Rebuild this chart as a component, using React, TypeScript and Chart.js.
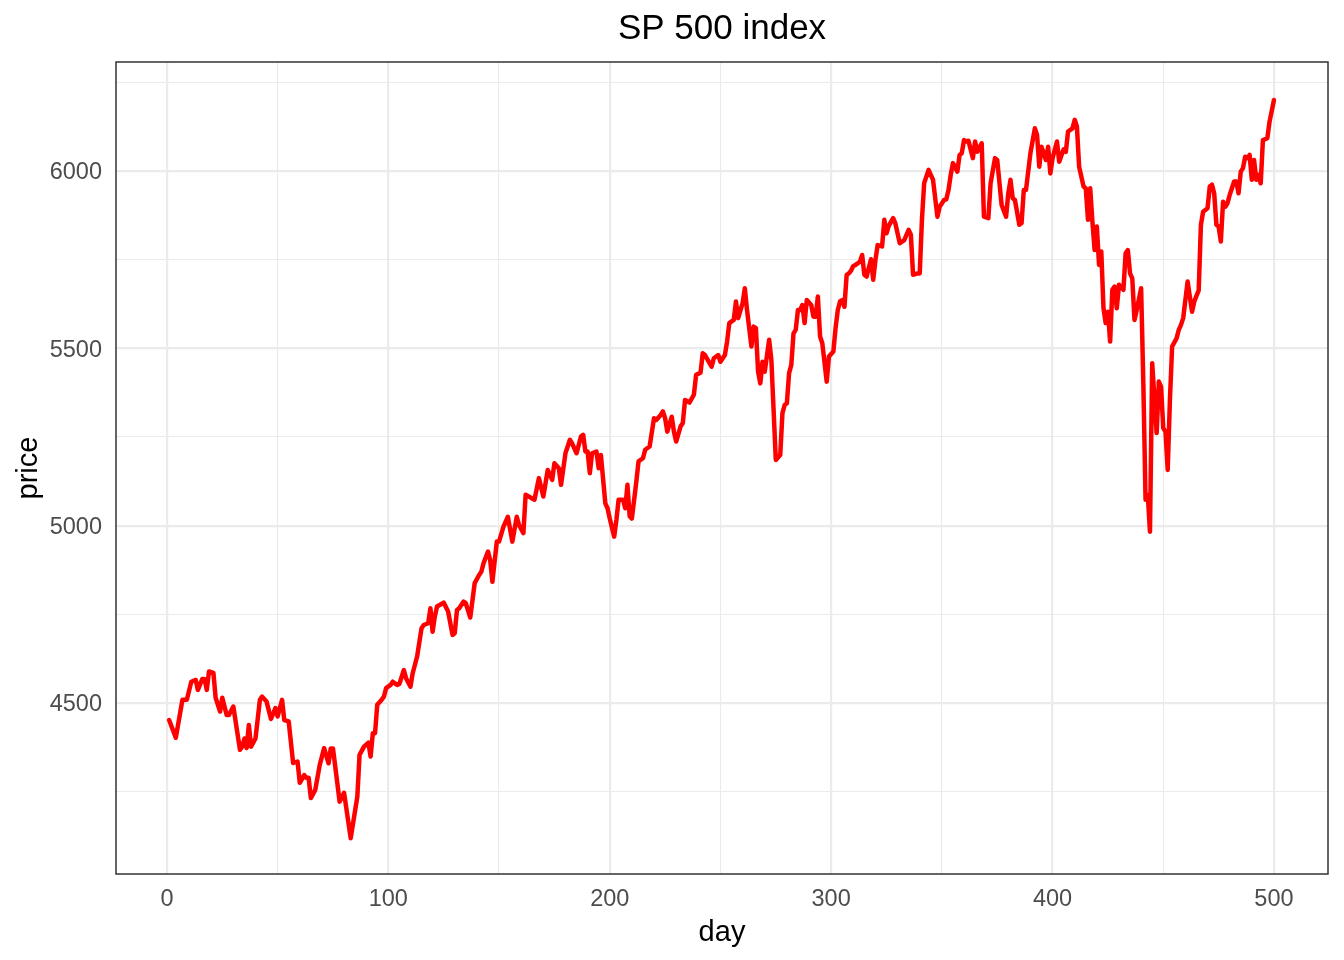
import React, { useEffect, useRef } from "react";
import { Chart, registerables } from "chart.js";

Chart.register(...registerables);

const days = [
  1, 4, 7, 9, 11, 13, 14, 16, 17, 18, 19, 21, 22, 24, 25, 27, 28, 30, 33, 34,
  35, 36, 37, 38, 40, 42, 43, 45, 47, 49, 50, 52, 53, 55, 57, 59, 60, 62, 63, 64,
  65, 67, 69, 71, 73, 74, 75, 78, 80, 83, 86, 87, 89, 91, 92, 93, 94, 95, 97, 98,
  99, 101, 102, 104, 105, 107, 108, 110, 111, 113, 115, 116, 118, 119, 120, 121, 122, 125, 127, 129,
  130, 131, 132, 134, 135, 137, 139, 141, 142, 143, 145, 146, 147, 149, 150, 152, 154, 156, 158, 159,
  161, 162, 164, 166, 168, 170, 172, 174, 175, 177, 178, 180, 182, 183, 185, 187, 188, 189, 190, 191,
  192, 194, 195, 196, 198, 199, 200, 202, 203, 204, 206, 207, 208, 209, 210, 212, 213, 215, 216, 218,
  220, 221, 223, 224, 225, 226, 228, 229, 230, 232, 233, 234, 236, 238, 239, 241, 242, 243, 246, 247,
  249, 250, 252, 253, 254, 256, 257, 258, 260, 261, 262, 264, 265, 266, 267, 268, 269, 270, 272, 273,
  275, 277, 278, 279, 280, 281, 282, 283, 284, 285, 286, 287, 288, 289, 291, 292, 293, 294, 295, 296,
  298, 299, 301, 302, 303, 304, 305, 306, 307, 308, 309, 310, 311, 313, 314, 315, 316, 318, 319, 320,
  321, 323, 324, 325, 326, 328, 329, 331, 333, 335, 336, 337, 339, 340, 341, 342, 344, 345, 346, 348,
  349, 351, 352, 353, 354, 355, 357, 358, 359, 360, 361, 362, 364, 365, 366, 368, 369, 371, 372, 374,
  375, 377, 379, 380, 381, 382, 383, 385, 386, 387, 388, 390, 392, 393, 394, 395, 397, 398, 399, 400,
  402, 403, 405, 406, 407, 409, 410, 411, 412, 414, 415, 416, 417, 418, 419, 420, 421, 422, 423, 424,
  425, 426, 427, 428, 429, 430, 432, 433, 434, 435, 436, 437, 438, 440, 441, 442, 443, 444, 445, 447,
  448, 449, 450, 451, 452, 453, 454, 456, 457, 458, 459, 461, 463, 464, 466, 467, 468, 470, 471, 472,
  473, 474, 475, 476, 477, 478, 479, 480, 482, 483, 484, 485, 486, 487, 488, 489, 490, 491, 492, 493,
  494, 495, 497, 498, 500,
];

const prices = [
  4452, 4402, 4509, 4509, 4560, 4565, 4537, 4568, 4568, 4537, 4589, 4585, 4515, 4476, 4515, 4466, 4466, 4490, 4368, 4377,
  4400, 4373, 4438, 4377, 4400, 4509, 4518, 4504, 4455, 4486, 4462, 4509, 4452, 4448, 4331, 4335, 4275, 4297, 4289, 4289,
  4232, 4255, 4325, 4373, 4330, 4372, 4372, 4222, 4247, 4119, 4236, 4354, 4377, 4388, 4349, 4415, 4415, 4495, 4509, 4518,
  4542, 4551, 4560, 4551, 4554, 4593, 4570, 4546, 4584, 4631, 4711, 4720, 4725, 4767, 4701, 4744, 4772, 4783, 4758, 4692,
  4697, 4762, 4767, 4786, 4781, 4741, 4838, 4861, 4870, 4894, 4927, 4903, 4842, 4955, 4955, 4997, 5025, 4955, 5025, 5002,
  4979, 5087, 5080, 5073, 5134, 5082, 5157, 5129, 5176, 5162, 5115, 5204, 5242, 5232, 5204, 5251, 5256, 5209, 5209, 5148,
  5204, 5209, 5162, 5199, 5063, 5049, 5020, 4969, 5016, 5073, 5073, 5049, 5115, 5026, 5020, 5124, 5181, 5190, 5214, 5223,
  5303, 5298, 5312, 5322, 5303, 5265, 5307, 5265, 5237, 5280, 5289, 5354, 5347, 5369, 5425, 5431, 5486, 5481, 5448, 5472,
  5481, 5462, 5481, 5519, 5571, 5580, 5632, 5585, 5627, 5669, 5608, 5505, 5561, 5557, 5434, 5401, 5462, 5434, 5524, 5467,
  5185, 5199, 5317, 5340, 5345, 5430, 5453, 5542, 5552, 5608, 5608, 5622, 5571, 5636, 5622, 5589, 5589, 5646, 5533, 5514,
  5406, 5477, 5491, 5557, 5608, 5632, 5636, 5617, 5707, 5711, 5719, 5732, 5735, 5744, 5763, 5707, 5702, 5751, 5693, 5749,
  5791, 5787, 5862, 5824, 5845, 5867, 5852, 5796, 5805, 5834, 5820, 5707, 5711, 5711, 5862, 5965, 6003, 5989, 5975, 5871,
  5899, 5918, 5920, 5946, 5989, 6022, 5998, 6045, 6050, 6087, 6083, 6085, 6036, 6083, 6054, 6078, 5871, 5867, 5965, 6036,
  6031, 5904, 5871, 5937, 5975, 5923, 5918, 5848, 5853, 5946, 5946, 6050, 6120, 6101, 6012, 6068, 6031, 6068, 5993, 6036,
  6083, 6026, 6061, 6054, 6111, 6120, 6144, 6125, 6012, 5956, 5951, 5862, 5951, 5857, 5777, 5843, 5735, 5773, 5613, 5571,
  5603, 5519, 5665, 5674, 5613, 5679, 5665, 5768, 5777, 5711, 5697, 5580, 5608, 5669, 5401, 5073, 5087, 4983, 5458, 5261,
  5406, 5392, 5275, 5265, 5157, 5354, 5505, 5528, 5552, 5566, 5585, 5688, 5603, 5632, 5663, 5848, 5885, 5895, 5956, 5961,
  5937, 5848, 5843, 5801, 5913, 5899, 5909, 5932, 5970, 5970, 5937, 5998, 6008, 6040, 6036, 6045, 5975, 6031, 5975, 5989,
  5965, 6087, 6092, 6139, 6200,
];

const xTicks = [0, 50, 100, 150, 200, 250, 300, 350, 400, 450, 500];
const xMajor = [0, 100, 200, 300, 400, 500];
const yTicks = [4250, 4500, 4750, 5000, 5250, 5500, 5750, 6000, 6250];
const yMajor = [4500, 5000, 5500, 6000];

const TITLE = "SP 500 index";
const FONT = "'Liberation Sans', Arial, Helvetica, sans-serif";

const panelPlugin = {
  id: "panelDecor",
  afterDatasetsDraw(chart: any) {
    const { ctx, chartArea } = chart;
    ctx.save();
    ctx.strokeStyle = "#333333";
    ctx.lineWidth = 1.5;
    ctx.strokeRect(chartArea.left, chartArea.top, chartArea.right - chartArea.left, chartArea.bottom - chartArea.top);
    ctx.fillStyle = "#000000";
    ctx.font = `35px ${FONT}`;
    ctx.textAlign = "center";
    ctx.textBaseline = "middle";
    ctx.fillText(TITLE, (chartArea.left + chartArea.right) / 2, 29);
    ctx.restore();
  },
};

export default function App() {
  const ref = useRef<HTMLCanvasElement | null>(null);

  useEffect(() => {
    document.body.style.margin = "0";
    if (!ref.current) return;
    const chart = new Chart(ref.current, {
      type: "line",
      data: {
        datasets: [
          {
            data: days.map((d, i) => ({ x: d, y: prices[i] })),
            borderColor: "#ff0000",
            borderWidth: 4.5,
            pointRadius: 0,
            tension: 0,
            borderJoinStyle: "round",
            borderCapStyle: "round",
            fill: false,
          },
        ],
      },
      options: {
        animation: false,
        responsive: false,
        layout: { padding: { top: 62, right: 16, bottom: 0, left: 0 } },
        plugins: {
          legend: { display: false },
          tooltip: { enabled: false },
          title: { display: false },
        },
        scales: {
          x: {
            type: "linear",
            min: -23,
            max: 524.4,
            afterBuildTicks: (scale: any) => {
              scale.ticks = xTicks.map((v) => ({ value: v }));
            },
            afterFit: (scale: any) => {
              scale.height = 86;
            },
            ticks: {
              color: "#4d4d4d",
              font: { family: FONT, size: 23.5 },
              padding: 11,
              maxRotation: 0,
              autoSkip: false,
              callback: (v: any) => (xMajor.includes(Number(v)) ? String(v) : ""),
            },
            grid: {
              color: "#ebebeb",
              lineWidth: (c: any) => (c.tick && xMajor.includes(c.tick.value) ? 2.2 : 1.1),
              drawTicks: false,
            },
            border: { display: false },
            title: {
              display: true,
              text: "day",
              color: "#000000",
              font: { family: FONT, size: 29 },
              padding: { top: 0, bottom: 10 },
            },
          },
          y: {
            type: "linear",
            min: 4018,
            max: 6307,
            afterBuildTicks: (scale: any) => {
              scale.ticks = yTicks.map((v) => ({ value: v }));
            },
            afterFit: (scale: any) => {
              scale.width = 116;
            },
            ticks: {
              color: "#4d4d4d",
              font: { family: FONT, size: 23.5 },
              padding: 14,
              labelOffset: 2,
              autoSkip: false,
              callback: (v: any) => (yMajor.includes(Number(v)) ? String(v) : ""),
            },
            grid: {
              color: "#ebebeb",
              lineWidth: (c: any) => (c.tick && yMajor.includes(c.tick.value) ? 2.2 : 1.1),
              drawTicks: false,
            },
            border: { display: false },
            title: {
              display: true,
              text: "price",
              color: "#000000",
              font: { family: FONT, size: 29 },
              padding: { top: 12, bottom: 0 },
            },
          },
        },
      },
      plugins: [panelPlugin],
    });
    return () => chart.destroy();
  }, []);

  return (
    <div style={{ width: 1344, height: 960 }}>
      <canvas ref={ref} width={1344} height={960} style={{ display: "block", width: 1344, height: 960 }} />
    </div>
  );
}
